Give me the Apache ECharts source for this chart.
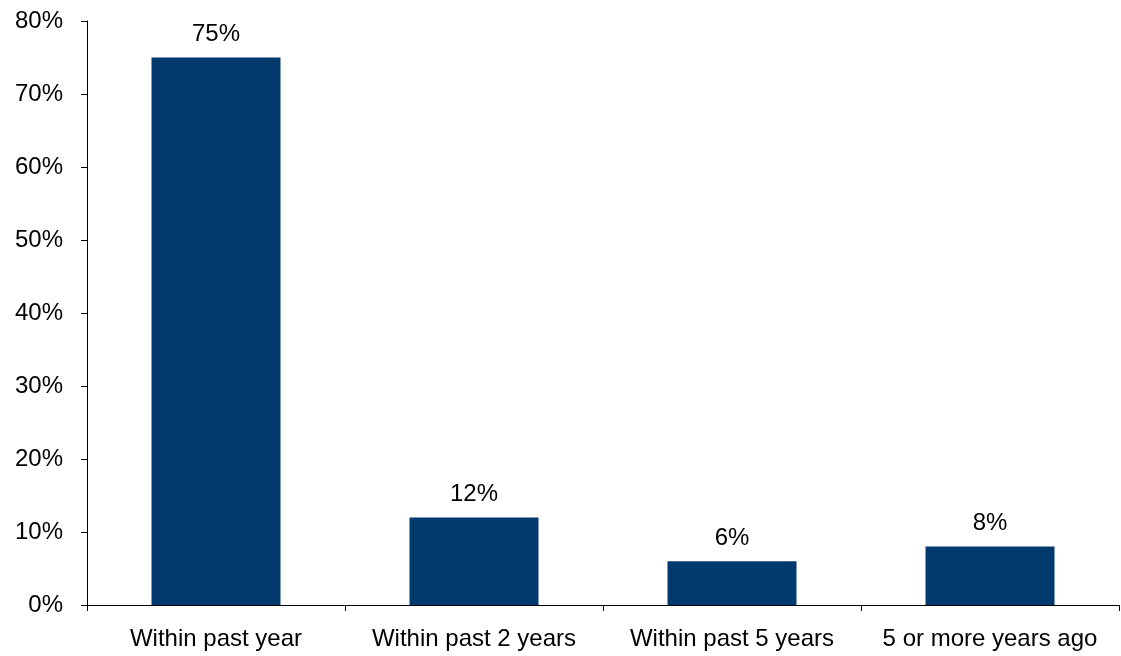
<!DOCTYPE html>
<html><head><meta charset="utf-8">
<script src="https://cdn.jsdelivr.net/npm/echarts@6/dist/echarts.min.js"></script>
<style>html,body{margin:0;padding:0;background:#fff}#c{width:1121px;height:656px}</style>
</head><body><div id="c"></div>
<script>
const categories = ["Within past year", "Within past 2 years", "Within past 5 years", "5 or more years ago"];
const values = [75, 12, 6, 8];
const yTicks = [0, 10, 20, 30, 40, 50, 60, 70, 80];

const chart = echarts.init(document.getElementById('c'), null, {renderer: 'canvas'});
const font = "'Liberation Sans', Arial, sans-serif";
chart.setOption({
  animation: false,
  grid: {left: 87, right: 2, top: 21, bottom: 51, containLabel: false},
  xAxis: {
    type: 'category', data: categories,
    axisLine: {lineStyle: {color: '#000', width: 1}},
    axisTick: {show: true, alignWithLabel: false, length: 6, lineStyle: {color: '#000'}},
    axisLabel: {color: '#000', fontSize: 24, fontFamily: font, margin: 22, interval: 0}
  },
  yAxis: {
    type: 'value', min: 0, max: 80, interval: 10,
    splitLine: {show: false},
    axisLine: {show: true, lineStyle: {color: '#000', width: 1}},
    axisTick: {show: true, length: 6, lineStyle: {color: '#000'}},
    axisLabel: {color: '#000', fontSize: 24, fontFamily: font, margin: 24, formatter: v => v + '%'}
  },
  series: [{
    type: 'bar', data: values, barWidth: '50%',
    itemStyle: {color: '#023a6e'},
    label: {show: true, position: 'top', distance: 11, color: '#000', fontSize: 24, fontFamily: font, formatter: p => p.value + '%'}
  }]
});
</script></body></html>
